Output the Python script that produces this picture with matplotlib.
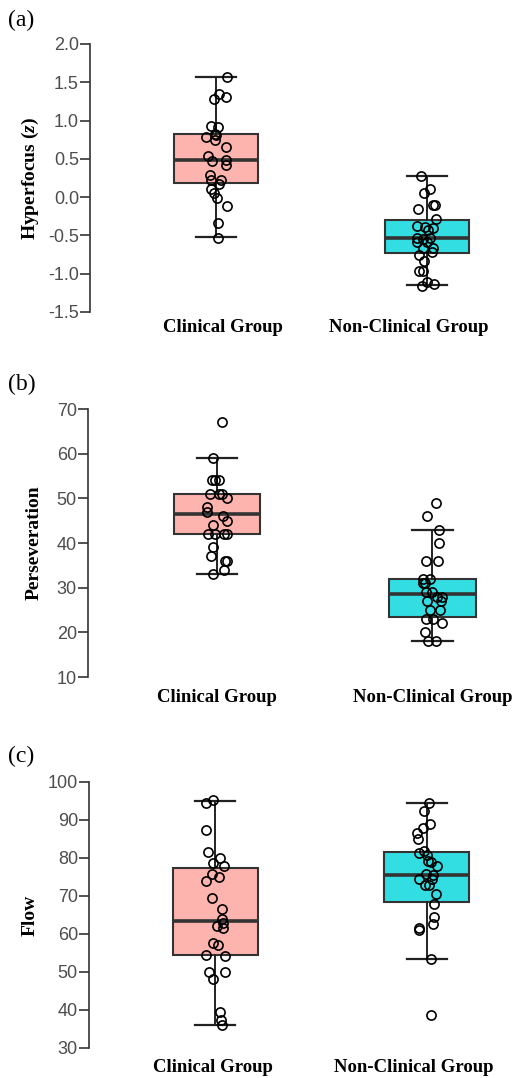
#!/usr/bin/env python3
"""Three stacked box plots: clinical vs non-clinical group, with raw points."""

import matplotlib

matplotlib.use("Agg")
import matplotlib.pyplot as plt  # noqa: E402

plt.rcParams["mathtext.fontset"] = "custom"
plt.rcParams["mathtext.rm"] = "Liberation Serif:bold"
plt.rcParams["mathtext.it"] = "Liberation Serif:italic:bold"

GROUPS = ["Clinical Group", "Non-Clinical Group"]
COLORS = ["#FDB3AE", "#33DEE3"]

# (a) Hyperfocus (z)
HYP_TICKS = [-1.5, -1.0, -0.5, 0.0, 0.5, 1.0, 1.5, 2.0]
HYP_BOX_CLIN = dict(whislo=-0.52, q1=0.18, med=0.48, q3=0.83, whishi=1.57)
HYP_BOX_NON = dict(whislo=-1.15, q1=-0.73, med=-0.53, q3=-0.30, whishi=0.27)
HYP_CLIN = [1.57, 1.35, 1.31, 1.28, 0.93, 0.91, 0.83, 0.81, 0.78, 0.75, 0.66,
            0.54, 0.48, 0.47, 0.42, 0.29, 0.23, 0.22, 0.17, 0.10, 0.05, -0.01,
            -0.12, -0.34, -0.53]
HYP_CLIN_JIT = [0.05, 0.014, 0.047, -0.011, -0.022, 0.009, -0.003, -0.002,
                -0.049, -0.005, 0.047, -0.039, 0.049, -0.018, 0.047, -0.028,
                0.022, -0.022, 0.014, -0.024, -0.011, 0.006, 0.05, 0.009, 0.011]
HYP_NON = [0.27, 0.10, 0.06, -0.10, -0.10, -0.15, -0.28, -0.38, -0.39, -0.40,
           -0.43, -0.53, -0.53, -0.55, -0.59, -0.59, -0.66, -0.67, -0.72,
           -0.75, -0.83, -0.96, -0.96, -1.11, -1.14, -1.16]
HYP_NON_JIT = [-0.030, 0.014, -0.016, 0.030, 0.039, -0.044, 0.043, -0.049,
               -0.009, 0.027, 0.003, -0.046, 0.014, -0.021, -0.046, 0.0, 0.030,
               -0.021, 0.022, -0.038, -0.014, -0.038, -0.021, -0.002, 0.035,
               -0.024]

# (b) Perseveration
PER_TICKS = [10, 20, 30, 40, 50, 60, 70]
PER_BOX_CLIN = dict(whislo=33, q1=42, med=46.5, q3=51, whishi=59)
PER_BOX_NON = dict(whislo=18, q1=23.5, med=28.5, q3=32, whishi=43)
PER_CLIN = [67, 59, 54, 54, 54, 51, 51, 51, 50, 48, 47, 46, 45, 44, 42, 42, 42,
            42, 39, 37, 36, 36, 34, 33]
PER_CLIN_JIT = [0.022, -0.020, -0.023, -0.008, 0.009, -0.032, 0.011, 0.023,
                0.046, -0.048, -0.045, 0.029, 0.045, -0.017, -0.040, -0.009,
                0.034, 0.045, -0.020, -0.026, 0.037, 0.046, 0.032, -0.020]
PER_NON = [49, 46, 43, 40, 36, 36, 32, 32, 31, 31, 29, 29, 28, 28, 27, 27, 25,
           25, 23, 23, 22, 20, 18, 18]
PER_NON_JIT = [0.018, -0.027, 0.032, 0.029, -0.030, 0.026, -0.046, -0.012,
               -0.046, -0.033, -0.029, 0.0, 0.019, 0.044, -0.027, 0.038, -0.012,
               0.035, -0.030, 0.001, 0.043, -0.035, -0.022, 0.015]

# (c) Flow
FLOW_TICKS = [30, 40, 50, 60, 70, 80, 90, 100]
FLOW_BOX_CLIN = dict(whislo=36.1, q1=54.5, med=63.3, q3=77.3, whishi=95.0)
FLOW_BOX_NON = dict(whislo=53.3, q1=68.5, med=75.6, q3=81.6, whishi=94.4)
FLOW_CLIN = [95.2, 94.5, 87.3, 81.6, 80.0, 78.7, 77.9, 75.7, 75.1, 73.9, 69.4,
             66.6, 64.0, 63.0, 62.1, 61.5, 57.6, 57.1, 54.6, 54.3, 50.0, 50.0,
             48.2, 39.4, 37.4, 36.0]
FLOW_CLIN_JIT = [-0.009, -0.042, -0.045, -0.034, 0.024, -0.010, 0.040, -0.017,
                 0.017, -0.042, -0.017, 0.034, 0.034, 0.037, 0.006, 0.037,
                 -0.009, 0.013, -0.045, 0.048, -0.031, 0.047, -0.013, 0.024,
                 0.029, 0.034]
FLOW_NON = [94.5, 92.3, 88.9, 87.8, 86.7, 85.0, 81.9, 81.2, 80.8, 79.3, 79.0,
            77.9, 75.7, 75.5, 74.5, 74.4, 72.9, 72.9, 70.5, 67.8, 64.4, 62.6,
            61.6, 61.1, 53.3, 38.8]
FLOW_NON_JIT = [0.009, -0.013, 0.016, -0.019, -0.047, -0.039, -0.013, -0.036,
                0.003, 0.006, 0.019, 0.047, -0.003, 0.032, -0.035, 0.024,
                -0.008, 0.013, 0.044, 0.035, 0.035, 0.028, -0.035, -0.035,
                0.021, 0.019]

W, H = 516, 1078


def panel(fig, rect_px, xlim, label_pos, ticks, fmt, boxes, points, ylabel,
          tag, tag_y, pad, ylab_x):
    left, top, right, bottom = rect_px
    ax = fig.add_axes([left / W, 1 - bottom / H, (right - left) / W,
                       (bottom - top) / H])
    stats = []
    for b in boxes:
        s = dict(b)
        s["fliers"] = []
        stats.append(s)
    bp = ax.bxp(stats, positions=[1, 2], widths=0.4, capwidths=0.19,
                patch_artist=True, showfliers=False,
                boxprops=dict(linewidth=1.5, edgecolor="#333333"),
                whiskerprops=dict(linewidth=1.4, color="#222222"),
                capprops=dict(linewidth=1.6, color="#222222"),
                medianprops=dict(linewidth=2.6, color="#333333"))
    for patch, c in zip(bp["boxes"], COLORS):
        patch.set_facecolor(c)
    for pos, (vals, jit) in zip([1, 2], points):
        ax.plot([pos + j for j in jit], vals, "o", mfc="none", mec="black",
                ms=6.6, mew=1.2, zorder=5)
    ax.set_xlim(*xlim)
    ax.set_ylim(ticks[0], ticks[-1])
    ax.set_yticks(ticks)
    ax.set_yticklabels([fmt.format(t) for t in ticks],
                       family="Liberation Sans")
    ax.set_xticks(label_pos)
    ax.set_xticklabels(GROUPS, family="Liberation Serif", fontweight="bold",
                       fontsize=13.5)
    ax.tick_params(axis="x", length=0, pad=pad)
    ax.tick_params(axis="y", length=7, width=1.2, color="#333333",
                   labelcolor="#4d4d4d", labelsize=13, pad=1)
    for side in ("top", "right", "bottom"):
        ax.spines[side].set_visible(False)
    ax.spines["left"].set_linewidth(1.2)
    ax.spines["left"].set_color("#333333")
    ax.set_ylabel(ylabel, family="Liberation Serif", fontweight="bold",
                  fontsize=14)
    # label centre x in pixels
    ax.yaxis.set_label_coords((ylab_x - left) / (right - left), 0.5)
    ax.yaxis.label.set_va("center")
    ax.patch.set_alpha(0)
    fig.text(8 / W, 1 - tag_y / H, tag, family="Liberation Serif",
             fontsize=17, va="center", ha="left")
    return ax


def main():
    fig = plt.figure(figsize=(W / 100, H / 100), dpi=100)
    panel(fig, (90, 44, 516, 312), (0.403, 2.422), [1.033, 1.915], HYP_TICKS,
          "{:.1f}", [HYP_BOX_CLIN, HYP_BOX_NON],
          [(HYP_CLIN, HYP_CLIN_JIT), (HYP_NON, HYP_NON_JIT)],
          r"Hyperfocus ($\mathit{z}$)", "(a)", 20, 5, 30)
    panel(fig, (88, 409, 516, 677), (0.401, 2.388), [1.0, 2.0], PER_TICKS,
          "{:d}", [PER_BOX_CLIN, PER_BOX_NON],
          [(PER_CLIN, PER_CLIN_JIT), (PER_NON, PER_NON_JIT)],
          "Perseveration", "(b)", 384, 9, 34)
    panel(fig, (89, 782, 516, 1048), (0.4025, 2.423), [0.987, 1.937],
          FLOW_TICKS, "{:d}", [FLOW_BOX_CLIN, FLOW_BOX_NON],
          [(FLOW_CLIN, FLOW_CLIN_JIT), (FLOW_NON, FLOW_NON_JIT)],
          "Flow", "(c)", 756, 8, 30)
    fig.savefig("out.png", dpi=100)


if __name__ == "__main__":
    main()
